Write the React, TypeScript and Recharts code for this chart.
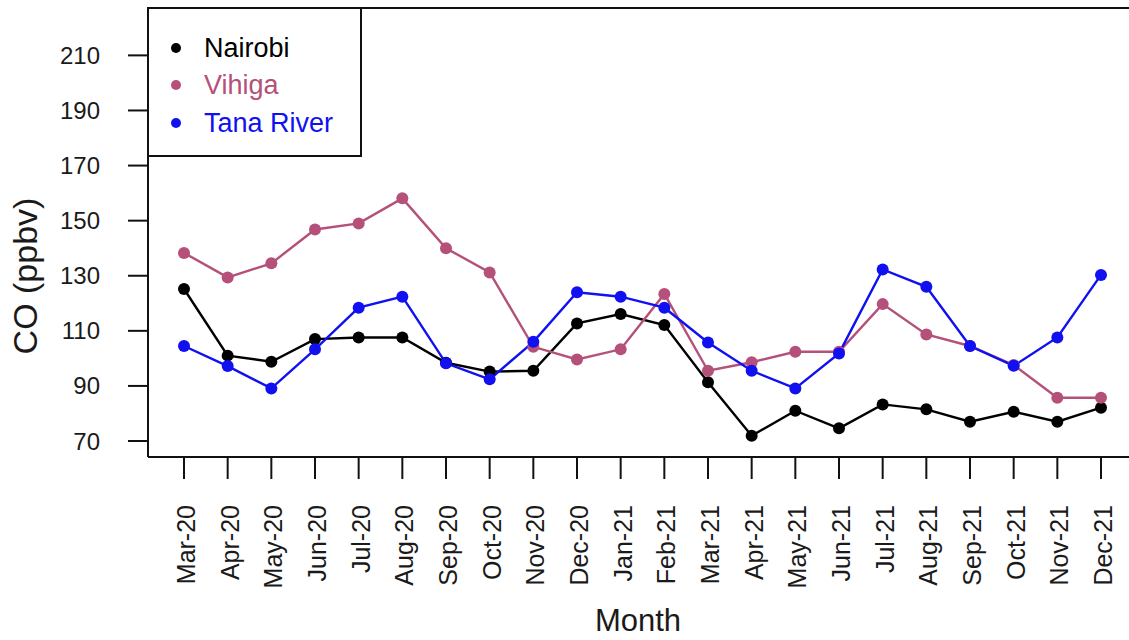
import { LineChart, Line, XAxis, YAxis, Legend } from "recharts";

const months = [
  "Mar-20", "Apr-20", "May-20", "Jun-20", "Jul-20", "Aug-20", "Sep-20", "Oct-20", "Nov-20", "Dec-20", "Jan-21",
  "Feb-21", "Mar-21", "Apr-21", "May-21", "Jun-21", "Jul-21", "Aug-21", "Sep-21", "Oct-21", "Nov-21", "Dec-21",
];
const nairobi = [125.2, 101, 98.8, 107, 107.6, 107.6, 98.4, 95.2, 95.5, 112.7, 116.1, 112.1, 91.3, 71.9, 81, 74.6, 83.3, 81.5, 77, 80.6, 77, 82.1];
const vihiga = [138.3, 129.4, 134.5, 146.8, 149, 158.1, 140, 131.2, 104.2, 99.6, 103.3, 123.4, 95.5, 98.6, 102.4, 102.4, 119.7, 108.7, 104.5, 97.6, 85.7, 85.7];
const tanaRiver = [104.5, 97.2, 89.1, 103.3, 118.4, 122.4, 98.2, 92.4, 106, 124, 122.4, 118.4, 105.8, 95.5, 89.1, 101.8, 132.3, 126, 104.5, 97.3, 107.6, 130.3];
const yTicks = [70, 90, 110, 130, 150, 170, 190, 210];
const seriesOrder = ["Nairobi", "Vihiga", "Tana River"];

const NAIROBI = "#000000";
const VIHIGA = "#b4507a";
const TANA = "#1010f0";
const FONT = "'Liberation Sans', Arial, sans-serif";

const data = months.map((m, i) => ({ month: m, nairobi: nairobi[i], vihiga: vihiga[i], tana: tanaRiver[i] }));

function MonthTick(props: any) {
  const { x, y, payload } = props;
  return (
    <text
      x={x}
      y={y}
      dy={11}
      transform={`rotate(-90, ${x}, ${y})`}
      textAnchor="end"
      fontSize={25}
      fontFamily={FONT}
      fill="#1a1a1a"
    >
      {payload.value}
    </text>
  );
}

function LegendBox(props: any) {
  const items = [...(props.payload || [])].sort(
    (a: any, b: any) => seriesOrder.indexOf(a.value) - seriesOrder.indexOf(b.value)
  );
  return (
    <div
      style={{
        boxSizing: "border-box",
        width: 215,
        height: 150,
        border: "2px solid #111",
        background: "#fff",
        paddingTop: 20,
        fontFamily: FONT,
        fontSize: 27,
      }}
    >
      {items.map((it: any) => (
        <div key={it.value} style={{ display: "flex", alignItems: "center", height: 37.5 }}>
          <span
            style={{
              display: "inline-block",
              width: 10,
              height: 10,
              borderRadius: 5,
              background: it.color,
              marginLeft: 22,
              marginRight: 23,
            }}
          />
          <span style={{ color: it.color, lineHeight: "30px" }}>{it.value}</span>
        </div>
      ))}
    </div>
  );
}

export default function App() {
  return (
    <div style={{ position: "absolute", left: 0, top: 0, width: 1129, height: 640, background: "#fff", overflow: "hidden" }}>
      <LineChart width={1129} height={640} data={data} margin={{ top: 0, right: 0, bottom: 0, left: 0 }}>
        <XAxis
          xAxisId="top"
          orientation="top"
          dataKey="month"
          height={8}
          tick={false}
          tickLine={false}
          axisLine={{ stroke: "#111", strokeWidth: 2 }}
        />
        <XAxis
          dataKey="month"
          height={183}
          interval={0}
          padding={{ left: 36, right: 28 }}
          tickSize={22}
          tickMargin={26}
          tickLine={{ stroke: "#111", strokeWidth: 2 }}
          axisLine={{ stroke: "#111", strokeWidth: 2 }}
          tick={<MonthTick />}
          label={() => (
            <text x={638} y={631} textAnchor="middle" fontSize={31} fontFamily={FONT} fill="#1a1a1a">
              Month
            </text>
          )}
        />
        <YAxis
          width={148}
          domain={[64.2, 227.2]}
          ticks={yTicks}
          allowDataOverflow
          tickSize={20}
          tickMargin={28}
          tickLine={{ stroke: "#111", strokeWidth: 2 }}
          axisLine={{ stroke: "#111", strokeWidth: 2 }}
          tick={{ fontSize: 24, fontFamily: FONT, fill: "#1a1a1a" }}
          label={() => (
            <text
              x={25}
              y={276}
              transform="rotate(-90, 25, 276)"
              textAnchor="middle"
              dominantBaseline="central"
              fontSize={34}
              fontFamily={FONT}
              fill="#1a1a1a"
            >
              CO (ppbv)
            </text>
          )}
        />
        <Legend
          layout="vertical"
          align="center"
          verticalAlign="middle"
          wrapperStyle={{ left: 147, top: 7, width: 215, height: 150 }}
          content={<LegendBox />}
        />
        <Line
          name="Nairobi"
          dataKey="nairobi"
          stroke={NAIROBI}
          strokeWidth={2.4}
          dot={{ r: 6, fill: NAIROBI, stroke: NAIROBI, strokeWidth: 0 }}
          isAnimationActive={false}
        />
        <Line
          name="Vihiga"
          dataKey="vihiga"
          stroke={VIHIGA}
          strokeWidth={2.4}
          dot={{ r: 6, fill: VIHIGA, stroke: VIHIGA, strokeWidth: 0 }}
          isAnimationActive={false}
        />
        <Line
          name="Tana River"
          dataKey="tana"
          stroke={TANA}
          strokeWidth={2.4}
          dot={{ r: 6, fill: TANA, stroke: TANA, strokeWidth: 0 }}
          isAnimationActive={false}
        />
      </LineChart>
    </div>
  );
}
